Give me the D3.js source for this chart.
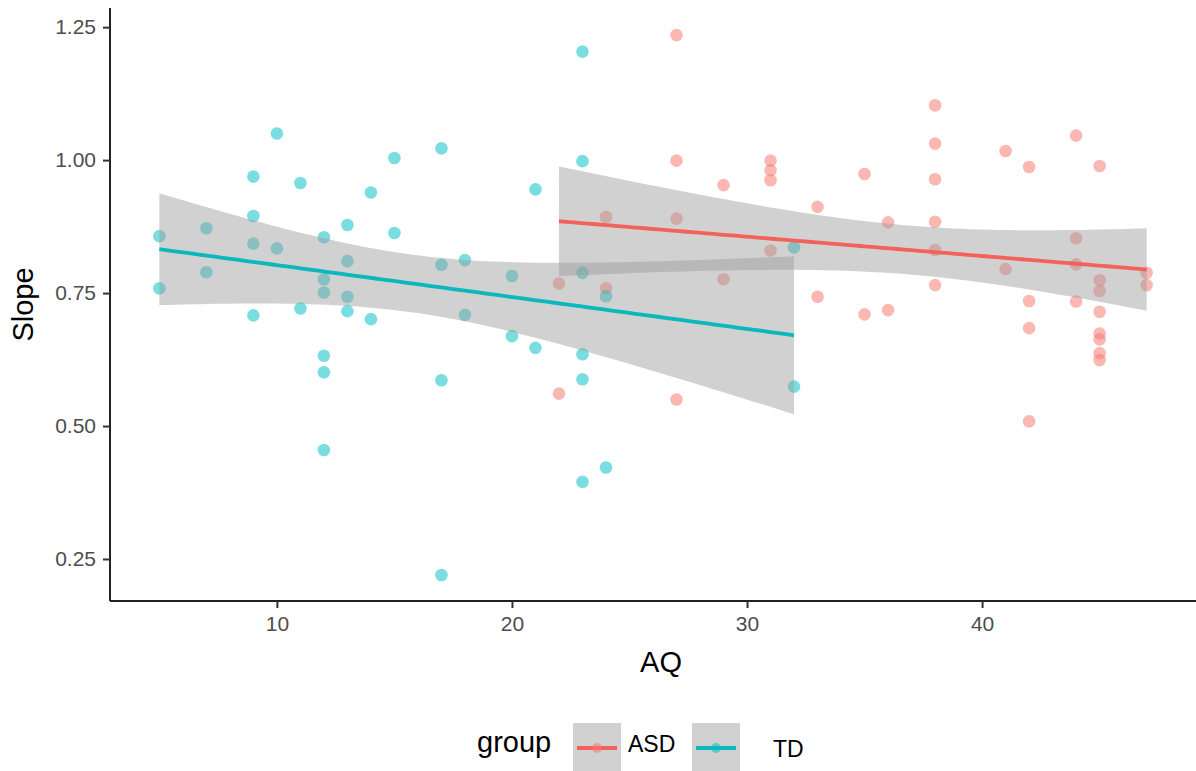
<!DOCTYPE html>
<html>
<head>
<meta charset="utf-8">
<script src="https://cdn.jsdelivr.net/npm/d3@7"></script>
<style>
  html, body { margin: 0; padding: 0; background: #fff; }
  svg { display: block; font-family: "Liberation Sans", Arial, Helvetica, sans-serif; }
</style>
</head>
<body>
<svg id="chart" width="1196" height="771"></svg>
<script>
// ---- data ----
const groups = ["ASD", "TD"];
const groupColors = ["#F8766D", "#00BFC4"];
const lineColors = ["#F3625A", "#0BB8BC"];

const tdAQ = [5,5, 7,7, 9,9,9,9, 10,10, 11,11, 12,12,12,12,12,12, 13,13,13,13, 14,14, 15,15, 17,17,17,17, 18,18, 20,20, 21,21, 23,23,23,23,23,23, 24,24, 32,32];
const tdSlope = [0.857,0.759, 0.872,0.789, 0.969,0.895,0.843,0.708, 1.050,0.834, 0.957,0.721, 0.855,0.776,0.751,0.632,0.601,0.455, 0.878,0.810,0.743,0.716, 0.939,0.701, 1.004,0.863, 1.022,0.803,0.586,0.220, 0.812,0.709, 0.782,0.669, 0.945,0.647, 1.204,0.998,0.788,0.635,0.588,0.395, 0.744,0.422, 0.836,0.574];

const asdAQ = [22,22, 24,24, 27,27,27,27, 29,29, 31,31,31,31, 33,33, 35,35, 36,36, 38,38,38,38,38,38, 41,41, 42,42,42,42, 44,44,44,44, 45,45,45,45,45,45,45,45, 47,47];
const asdSlope = [0.768,0.561, 0.893,0.759, 1.235,0.999,0.890,0.550, 0.953,0.776, 0.999,0.981,0.962,0.830, 0.912,0.743, 0.974,0.710, 0.883,0.718, 1.103,1.031,0.964,0.884,0.831,0.765, 1.017,0.795, 0.987,0.735,0.684,0.509, 1.046,0.853,0.804,0.734, 0.989,0.774,0.754,0.715,0.674,0.663,0.637,0.624, 0.788,0.765];

const xTicks = [10, 20, 30, 40];
const yTicks = [0.25, 0.50, 0.75, 1.00, 1.25];
const xTitle = "AQ";
const yTitle = "Slope";
const legendTitle = "group";

// ---- helpers ----
function tQuantile975(df) {
  const z = 1.959964;
  return z + (z*z*z + z) / (4*df) + (5*Math.pow(z,5) + 16*z*z*z + 3*z) / (96*df*df);
}
function fitLm(xs, ys) {
  const n = xs.length;
  const mx = d3.mean(xs), my = d3.mean(ys);
  let sxx = 0, sxy = 0;
  for (let i = 0; i < n; i++) { sxx += (xs[i]-mx)**2; sxy += (xs[i]-mx)*(ys[i]-my); }
  const b = sxy / sxx, a = my - b*mx;
  let sse = 0;
  for (let i = 0; i < n; i++) sse += (ys[i] - (a + b*xs[i]))**2;
  const s = Math.sqrt(sse / (n-2));
  const t = tQuantile975(n-2);
  const [x0, x1] = d3.extent(xs);
  return d3.range(0, 81).map(k => {
    const xv = x0 + (x1-x0)*k/80;
    const yhat = a + b*xv;
    const se = s * Math.sqrt(1/n + (xv-mx)**2/sxx);
    return {x: xv, y: yhat, lo: yhat - t*se, hi: yhat + t*se};
  });
}

// ---- layout ----
const svg = d3.select("#chart");
const pL = 110, pR = 1196, pT = 8, pB = 601;
const x = d3.scaleLinear().domain([2.9, 49.1]).range([pL, pR]);
const y = d3.scaleLinear().domain([0.171, 1.286]).range([pB, pT]);

const series = [
  {name: groups[0], xs: asdAQ, ys: asdSlope, color: groupColors[0], line: lineColors[0]},
  {name: groups[1], xs: tdAQ, ys: tdSlope, color: groupColors[1], line: lineColors[1]}
];

// points (drawn first, under the smooth ribbons)
const gPts = svg.append("g");
series.forEach(s => {
  gPts.selectAll(null).data(s.xs.map((v,i) => [v, s.ys[i]])).enter()
    .append("circle")
    .attr("cx", d => x(d[0])).attr("cy", d => y(d[1])).attr("r", 6.3)
    .attr("fill", s.color).attr("fill-opacity", 0.52);
});

// smooths
const area = d3.area().x(d => x(d.x)).y0(d => y(d.lo)).y1(d => y(d.hi));
const line = d3.line().x(d => x(d.x)).y(d => y(d.y));
series.forEach(s => {
  const fit = fitLm(s.xs, s.ys);
  svg.append("path").attr("d", area(fit)).attr("fill", "#999999").attr("fill-opacity", 0.45);
  svg.append("path").attr("d", line(fit)).attr("fill", "none").attr("stroke", s.line).attr("stroke-width", 3.8);
});

// axes
const axX = svg.append("g").attr("transform", `translate(0,${pB})`)
  .call(d3.axisBottom(x).tickValues(xTicks).tickSize(7).tickSizeOuter(0).tickPadding(8));
const axY = svg.append("g").attr("transform", `translate(${pL},0)`)
  .call(d3.axisLeft(y).tickValues(yTicks).tickFormat(d3.format(".2f")).tickSize(7).tickSizeOuter(0).tickPadding(7));
[axX, axY].forEach(a => {
  a.select(".domain").attr("stroke", "#222").attr("stroke-width", 2);
  a.selectAll(".tick line").attr("stroke", "#333").attr("stroke-width", 2);
  a.selectAll(".tick text").attr("fill", "#4d4d4d").attr("font-size", 21).attr("font-family", "Liberation Sans, Arial, sans-serif");
});
axY.select(".domain").attr("d", `M0,${pT}V${pB}`);
axX.select(".domain").attr("d", `M${pL},0H${pR}`);

// titles
svg.append("text").attr("x", (pL+pR)/2 + 8).attr("y", 672).attr("text-anchor", "middle")
  .attr("font-size", 29).attr("fill", "#000").text(xTitle);
svg.append("text").attr("transform", `translate(33,${(pT+pB)/2}) rotate(-90)`).attr("text-anchor", "middle")
  .attr("font-size", 29).attr("fill", "#000").text(yTitle);

// legend
const lg = svg.append("g");
lg.append("text").attr("x", 477).attr("y", 752).attr("font-size", 29).attr("fill", "#000").text(legendTitle);
const keyX = [573, 692], labX = [628, 773], labY = [752, 757];
series.forEach((s, i) => {
  lg.append("rect").attr("x", keyX[i]).attr("y", 723).attr("width", 48).attr("height", 48)
    .attr("fill", "#999999").attr("fill-opacity", 0.45);
  lg.append("line").attr("x1", keyX[i]+4).attr("x2", keyX[i]+44).attr("y1", 748).attr("y2", 748)
    .attr("stroke", s.line).attr("stroke-width", 3.8);
  lg.append("circle").attr("cx", keyX[i]+24).attr("cy", 748).attr("r", 5)
    .attr("fill", s.color).attr("fill-opacity", 0.52);
  lg.append("text").attr("x", labX[i]).attr("y", labY[i]).attr("font-size", 23).attr("fill", "#000").text(s.name);
});
</script>
</body>
</html>
